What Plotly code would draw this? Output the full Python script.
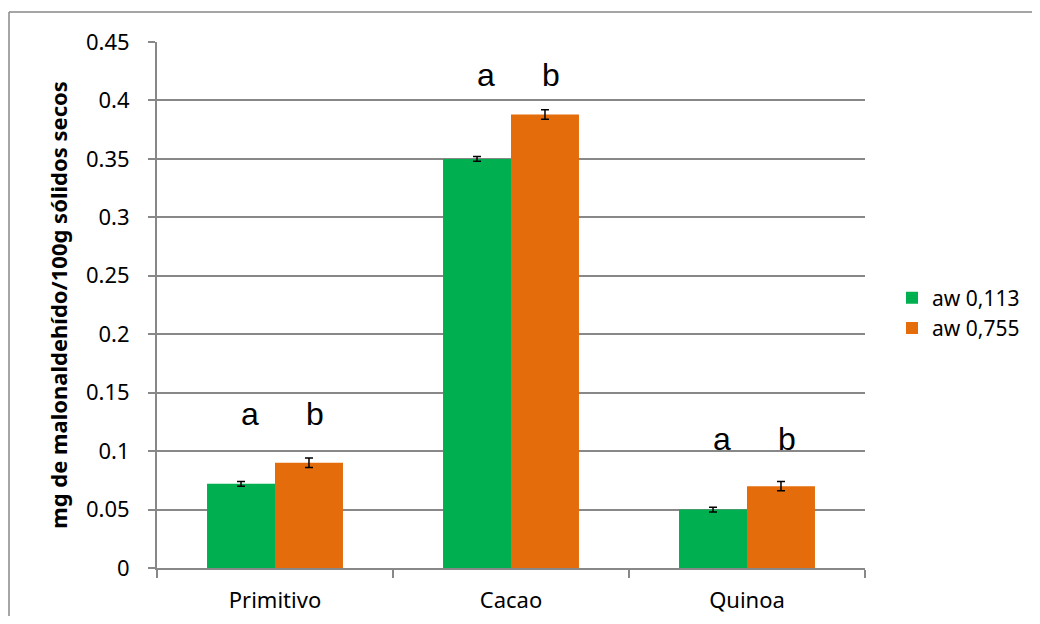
import plotly.graph_objects as go

categories = ["Primitivo", "Cacao", "Quinoa"]
series_names = ["aw 0,113", "aw 0,755"]
values_113 = [0.072, 0.350, 0.050]
errors_113 = [0.002, 0.002, 0.002]
values_755 = [0.090, 0.388, 0.070]
errors_755 = [0.004, 0.004, 0.004]
letters_113 = ["a", "a", "a"]
letters_755 = ["b", "b", "b"]
letter_y = [0.132, 0.422, 0.110]
y_ticks = [0, 0.05, 0.1, 0.15, 0.2, 0.25, 0.3, 0.35, 0.4, 0.45]
y_tick_labels = ["0", "0.05", "0.1", "0.15", "0.2", "0.25", "0.3", "0.35", "0.4", "0.45"]
y_title = "mg de malonaldehído/100g sólidos secos"

GREEN = "#00B050"
ORANGE = "#E46C0A"
GRID = "#888888"
FONT = "Noto Sans"

fig = go.Figure()
fig.add_trace(go.Bar(
    x=categories, y=values_113, name=series_names[0],
    marker=dict(color=GREEN, line=dict(width=0)),
    error_y=dict(type="data", array=errors_113, color="black", thickness=1.5, width=4),
))
fig.add_trace(go.Bar(
    x=categories, y=values_755, name=series_names[1],
    marker=dict(color=ORANGE, line=dict(width=0)),
    error_y=dict(type="data", array=errors_755, color="black", thickness=1.5, width=4),
))

annotations = []
for cat, la, lb, ly in zip(categories, letters_113, letters_755, letter_y):
    annotations.append(dict(x=cat, y=ly, text=la, xref="x", yref="y", showarrow=False,
                            xshift=-25, yanchor="middle",
                            font=dict(family="Liberation Sans", size=32, color="black")))
    annotations.append(dict(x=cat, y=ly, text=lb, xref="x", yref="y", showarrow=False,
                            xshift=40, yanchor="middle",
                            font=dict(family="Liberation Sans", size=32, color="black")))

# page body has an 8px margin; compensate (and avoid scrollbars)
OFF = 8
W, H = 1040 - 2 * OFF, 624 - 2 * OFF
L, T = 157 - OFF, 42 - OFF
R = (1040 - OFF) - 865
B = (624 - OFF) - 568
PW, PH = W - L - R, H - T - B

def px_x(x):
    return (x - OFF - L) / PW

def px_y(y):
    return (OFF + H - B - y) / PH

border = dict(color="#888888", width=1.5)
fig.update_layout(
    width=W, height=H,
    margin=dict(l=L, r=R, t=T, b=B, autoexpand=False),
    paper_bgcolor="white", plot_bgcolor="white",
    barmode="group", bargap=0.424, bargroupgap=0,
    font=dict(family=FONT, size=22, color="black"),
    showlegend=True,
    legend=dict(x=px_x(892), y=px_y(313), xanchor="left", yanchor="middle",
                font=dict(family=FONT, size=21), itemwidth=30,
                bgcolor="rgba(0,0,0,0)"),
    annotations=annotations,
    shapes=[
        dict(type="line", xref="paper", yref="paper",
             x0=px_x(9), x1=px_x(9), y0=px_y(616), y1=px_y(12), line=border, layer="below"),
        dict(type="line", xref="paper", yref="paper",
             x0=px_x(9), x1=px_x(1032), y0=px_y(12), y1=px_y(12), line=border, layer="below"),
    ],
    xaxis=dict(showgrid=False, showline=True, linecolor=GRID, linewidth=2,
               ticks="outside", tickson="boundaries", ticklen=8, tickcolor=GRID, tickwidth=2,
               ticklabelstandoff=12,
               tickfont=dict(family=FONT, size=22)),
    yaxis=dict(range=[0, 0.45], tickvals=y_ticks, ticktext=y_tick_labels,
               showgrid=True, gridcolor=GRID, gridwidth=1.5, zeroline=False,
               showline=True, linecolor=GRID, linewidth=2,
               ticks="outside", ticklen=7, tickcolor=GRID, tickwidth=2,
               ticklabelstandoff=14,
               tickfont=dict(family=FONT, size=22),
               title=dict(text="<b>" + y_title + "</b>", font=dict(family=FONT, size=22), standoff=12)),
)

fig.write_html("out.html")
